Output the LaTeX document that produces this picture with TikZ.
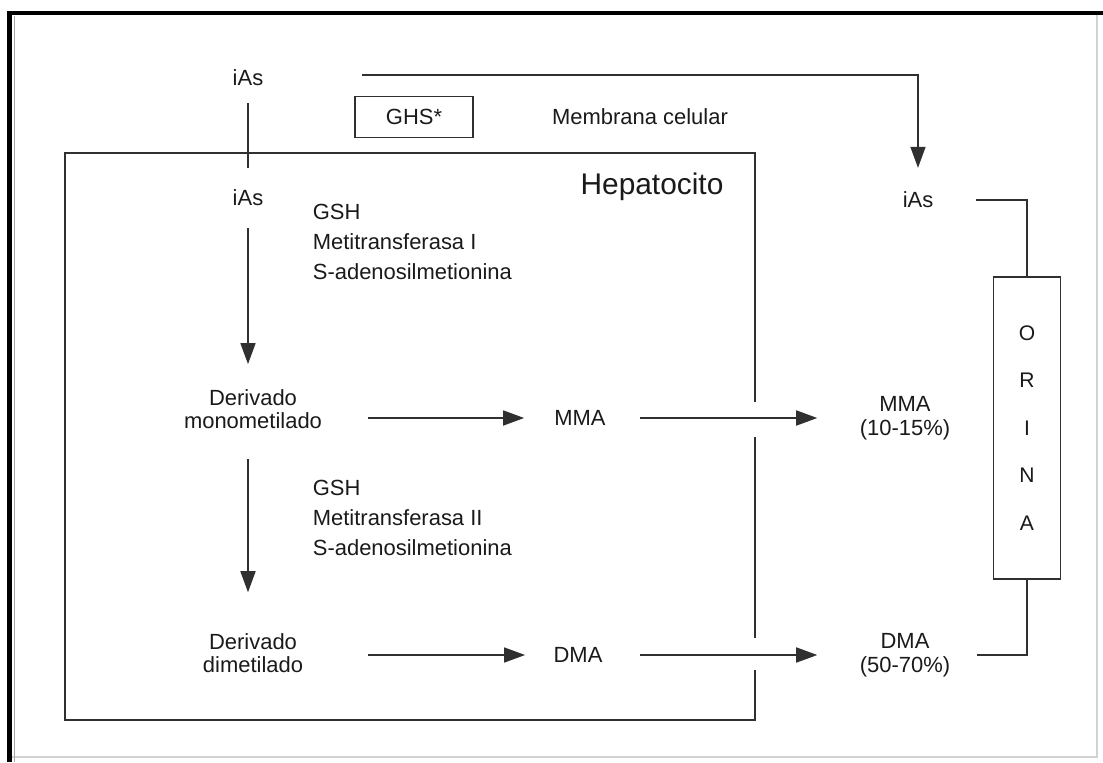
\documentclass[tikz,border=0pt]{standalone}
\usepackage{fontspec}
\setmainfont{Liberation Sans}
\usetikzlibrary{arrows.meta}
\definecolor{ink}{HTML}{1A1A1A}
\definecolor{wire}{HTML}{303030}
\tikzset{
	txt/.style={text=ink, font=\fontsize{12.5}{13.5}\selectfont, align=center, inner sep=2pt},
	enz/.style={txt, align=left, anchor=west, font=\fontsize{12.5}{17}\selectfont},
	line/.style={draw=wire, line width=1.1pt},
	arr/.style={line, -{Triangle[length=12pt,width=8.5pt]}},
}

\begin{document}
\begin{tikzpicture}[x=0.02cm, y=-0.02cm]
	\useasboundingbox (0,0) rectangle (1103,762);
	\draw[gray!35, line width=0.8pt] (1097,13) -- (1097,757) -- (10,757);
	\draw[black, line width=2.8pt] (1103,13) -- (9.5,13) -- (9.5,762);
	\draw[gray!70, line width=0.7pt] (14.5,16) -- (14.5,762);

	\node[txt] (iasTop) at (248,78) {iAs};
	\node[txt, draw=wire, line width=1.1pt, minimum width=2.36cm, minimum height=0.82cm] (ghs) at (414,117) {GHS*};
	\node[txt] (membrana) at (640,117) {Membrana celular};
	\node[txt, font=\fontsize{17}{19}\selectfont] (hepato) at (652,187) {Hepatocito};
	\node[txt] (iasIn) at (248,198) {iAs};
	\node[enz] (enzI) at (309,242) {GSH\\Metitransferasa I\\S-adenosilmetionina};
	\node[txt] (mono) at (253,409) {Derivado\\monometilado};
	\node[txt] (mma) at (580,418) {MMA};
	\node[txt] (mmaU) at (905,418) {MMA\\(10-15\%)};
	\node[enz] (enzII) at (309,518) {GSH\\Metitransferasa II\\S-adenosilmetionina};
	\node[txt] (dimet) at (253,653) {Derivado\\dimetilado};
	\node[txt] (dma) at (578,655) {DMA};
	\node[txt] (dmaU) at (905,655) {DMA\\(50-70\%)};
	\node[txt] (iasU) at (918,200) {iAs};
	\node[txt, draw=wire, line width=1.1pt, minimum width=1.34cm, minimum height=6.04cm, font=\fontsize{12}{27}\selectfont] (orina) at (1027,428) {O\\R\\I\\N\\A};
	\coordinate (salida) at (362,75);

	\draw[line] (755,402) -- (755,153) -- (65,153) -- (65,720) -- (755,720) -- (755,670);
	\draw[line] (755,437) -- (755,638);

	\draw[arr, shorten >=11.5pt] (salida) -| (iasU.north);
	\draw[line, shorten <=7.5pt, shorten >=10.5pt] (iasTop) -- (iasIn);
	\draw[arr, shorten <=10.5pt, shorten >=12pt] (iasIn) -- (iasIn |- mono.north);
	\draw[arr, shorten <=15pt, shorten >=21pt] (mono.south -| iasIn) -- (dimet.north -| iasIn);
	\draw[arr, shorten <=24pt, shorten >=15pt] (mono.east |- mma) -- (mma.west);
	\draw[arr, shorten <=17.5pt, shorten >=22pt] (mma.east) -- (mmaU.west |- mma);
	\draw[arr, shorten <=35pt, shorten >=14pt] (dimet.east |- dma) -- (dma.west);
	\draw[arr, shorten <=19pt, shorten >=22pt] (dma.east) -- (dmaU.west |- dma);
	\draw[line, shorten <=22pt] (iasU.east) -| (orina.north);
	\draw[line, shorten <=13pt] (dmaU.east) -| (orina.south);
\end{tikzpicture}
\end{document}
